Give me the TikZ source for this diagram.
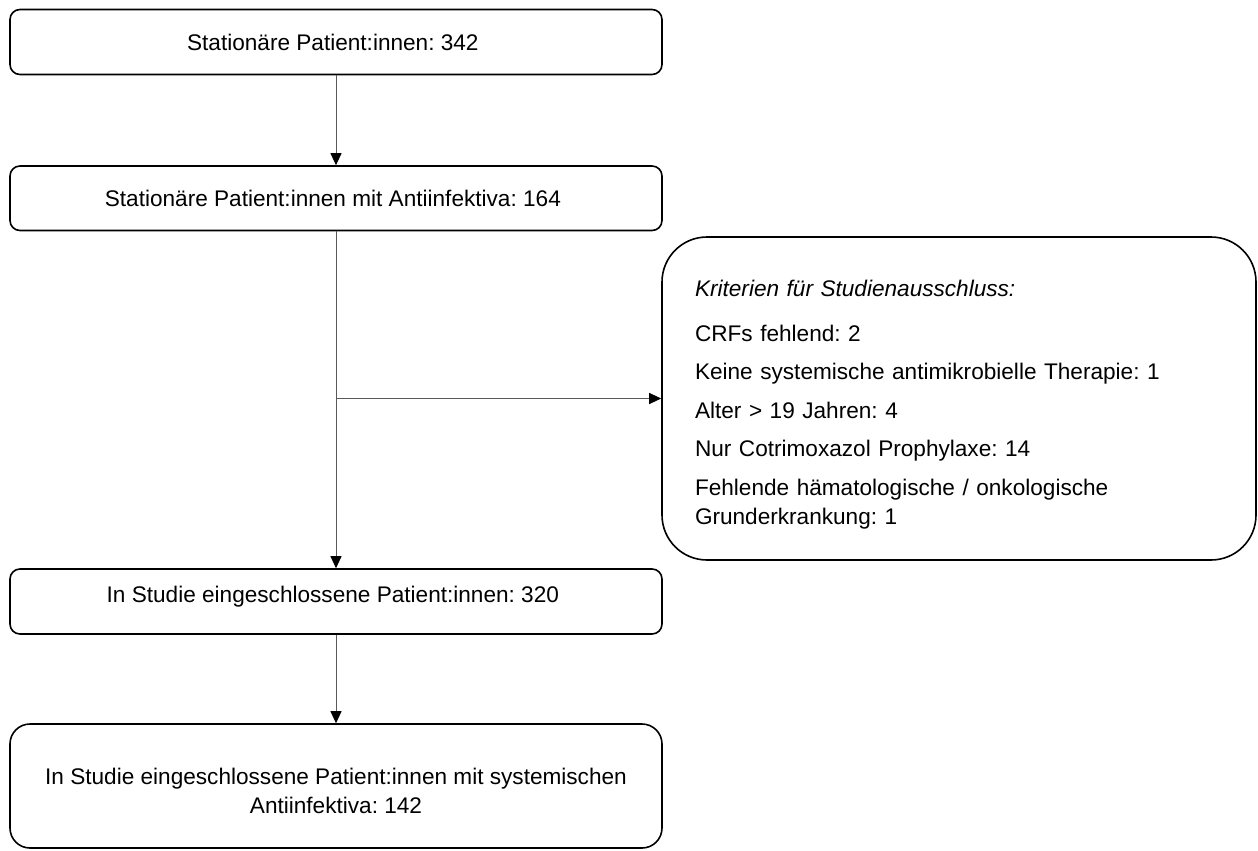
\documentclass[tikz,border=0pt]{standalone}
\usepackage{fontspec}
\setmainfont{Liberation Sans}
\usepackage{xcolor}
\definecolor{flowline}{HTML}{5A5A5A}
\usepackage{tikz}
\usetikzlibrary{arrows.meta}
\frenchspacing

\begin{document}
\begin{tikzpicture}[
		x=1pt, y=-1pt,
		box/.style={
			draw=black,
			rounded corners=10pt,
			line width=1.6pt,
			fill=white,
			align=center,
			inner sep=0pt,
			minimum width=652pt,
			font=\fontsize{22.6}{28.5}\selectfont
		},
		exclbox/.style={
			draw=black,
			rounded corners=45pt,
			line width=1.6pt,
			fill=white,
			align=left,
			text width=528pt,
			inner xsep=33pt,
			inner ysep=0pt,
			minimum height=323pt,
			font=\fontsize{22.6}{29.5}\selectfont
		},
		arrow/.style={
			-{Triangle[width=11pt,length=12pt,color=black]},
			line width=1pt,
			draw=flowline
		}
	]
	
	% Page frame
	\useasboundingbox (0,0) rectangle (1258,851);
	
	% Main flow
	\node[box, minimum height=65pt] (alle) at (336,42) {%
		Stationäre Patient:innen: 342
	};
	
	\node[box, minimum height=64.5pt] (anti) at (336,198.25) {%
		Stationäre Patient:innen mit Antiinfektiva: 164
	};
	
	\node[box, minimum height=65pt, text depth=13.5pt] (studie) at (336,601.5) {%
		In Studie eingeschlossene Patient:innen: 320
	};
	
	\node[box, minimum height=124pt, rounded corners=20pt, text height=55pt] (system) at (336,786) {%
		In Studie eingeschlossene Patient:innen mit systemischen\\
		Antiinfektiva: 142
	};
	
	% Exclusion box
	\node[exclbox, text height=29pt] (ausschluss) at (959,398.5) {%
		\textit{Kriterien für Studienausschluss:}\\[15pt]
		CRFs fehlend: 2\\[9pt]
		Keine systemische antimikrobielle Therapie: 1\\[9pt]
		Alter > 19 Jahren: 4\\[9pt]
		Nur Cotrimoxazol Prophylaxe: 14\\[9pt]
		Fehlende hämatologische / onkologische\\
		Grunderkrankung: 1
	};
	
	% Arrows
	\coordinate (abzweig) at (anti.south |- ausschluss.west);
	\draw[arrow] (alle.south) -- (anti.north);
	\draw[arrow] (anti.south) -- (studie.north);
	\draw[arrow] (abzweig) -- (ausschluss.west);
	\draw[arrow] (studie.south) -- (system.north);
	
\end{tikzpicture}
\end{document}
